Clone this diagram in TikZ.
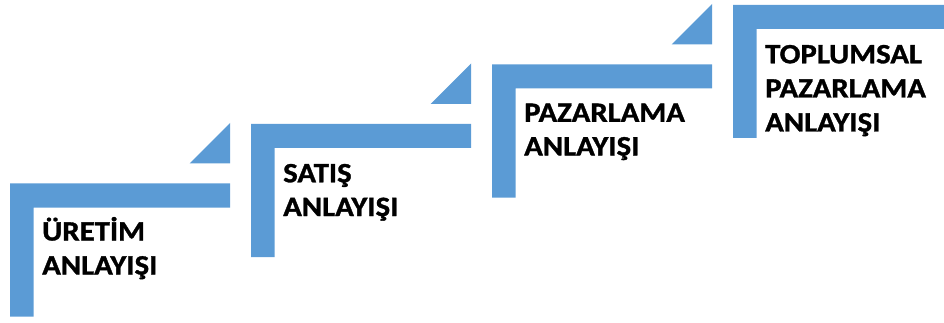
\documentclass[tikz,border=0pt]{standalone}
\usepackage{fontspec}
\setmainfont{Carlito}[BoldFeatures={FakeStretch=1.1,FakeBold=1.2}]
\definecolor{stepblue}{HTML}{5B9BD5}
\tikzset{
  stepfill/.style={fill=stepblue, draw=none},
  steplabel/.style={anchor=base west, inner sep=0pt, font=\bfseries\fontsize{28}{33.7}\selectfont, text=black, align=left}
}
\newcommand{\stepshape}[2]{%
  \fill[stepfill] (#1,#2) -- ++(220,0) -- ++(0,24) -- ++(-196.5,0) -- ++(0,109) -- ++(-23.5,0) -- cycle;
  \fill[stepfill] (#1+179.5,#2-20) -- (#1+220,#2-20) -- (#1+220,#2-60.5) -- cycle;
}
\begin{document}
\begin{tikzpicture}[x=1pt,y=-1pt]
\useasboundingbox (0,0) rectangle (944,323);
\clip (0,0) rectangle (944,323);
\stepshape{10}{183.5}
\stepshape{251}{124}
\stepshape{492}{64.5}
\stepshape{733}{5}
\node[steplabel] (s1) at (42,240.5) {ÜRETİM};
\node[steplabel] (s1b) at (42,274.5) {ANLAYIŞI};
\node[steplabel] (s2) at (283,182.3) {SATIŞ};
\node[steplabel] (s2b) at (283,216) {ANLAYIŞI};
\node[steplabel] (s3) at (524,121.8) {PAZARLAMA};
\node[steplabel] (s3b) at (524,155.4) {ANLAYIŞI};
\node[steplabel] (s4) at (765,63.3) {TOPLUMSAL};
\node[steplabel] (s4b) at (765,97.5) {PAZARLAMA};
\node[steplabel] (s4c) at (765,131.5) {ANLAYIŞI};
\end{tikzpicture}
\end{document}
